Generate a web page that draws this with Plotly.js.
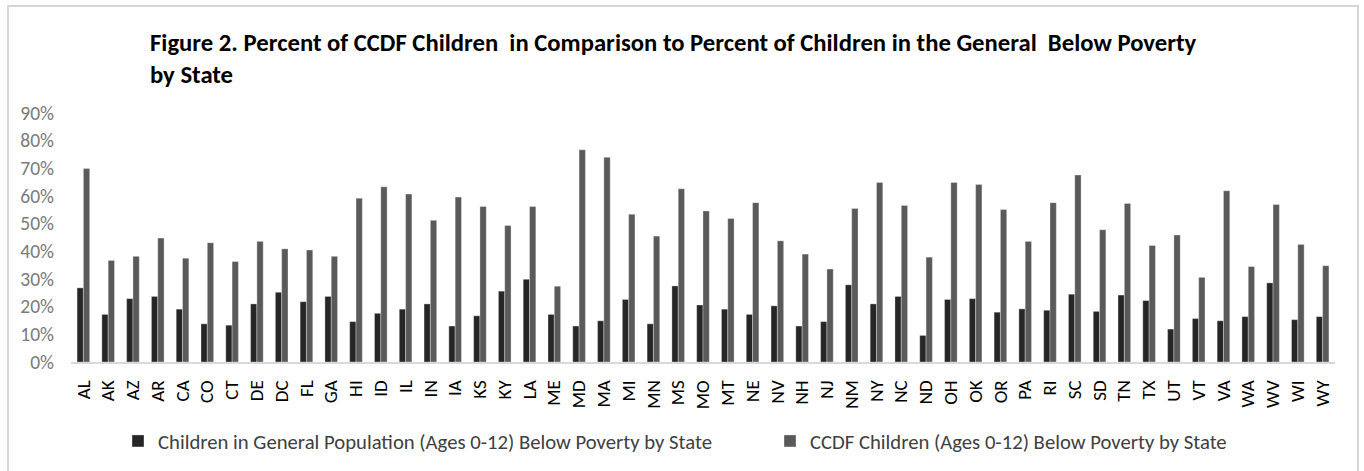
<!DOCTYPE html>
<html>
<head>
<meta charset="utf-8">
<script src="https://cdn.plot.ly/plotly-3.0.1.min.js"></script>
<style>
  html, body { margin: 0; padding: 0; background: #fff; }
  #chart { width: 1364px; height: 471px; }
</style>
</head>
<body>
<div id="chart"></div>
<script>
// State abbreviations along the category axis
const states = ['AL','AK','AZ','AR','CA','CO','CT','DE','DC','FL','GA','HI','ID','IL','IN','IA','KS','KY','LA','ME','MD','MA','MI','MN','MS','MO','MT','NE','NV','NH','NJ','NM','NY','NC','ND','OH','OK','OR','PA','RI','SC','SD','TN','TX','UT','VT','VA','WA','WV','WI','WY'];

// Share of children (ages 0-12) in the general population below poverty
const generalPoverty = [0.268,0.172,0.229,0.237,0.191,0.138,0.133,0.210,0.252,0.218,0.237,0.146,0.176,0.191,0.210,0.130,0.167,0.256,0.299,0.172,0.130,0.149,0.226,0.138,0.275,0.206,0.191,0.172,0.203,0.130,0.146,0.279,0.210,0.237,0.096,0.226,0.229,0.180,0.192,0.187,0.245,0.183,0.242,0.222,0.119,0.157,0.149,0.164,0.286,0.153,0.164];

// Share of CCDF children (ages 0-12) below poverty
const ccdfPoverty = [0.699,0.367,0.382,0.448,0.375,0.431,0.363,0.436,0.409,0.405,0.382,0.592,0.633,0.607,0.512,0.596,0.562,0.493,0.562,0.274,0.767,0.740,0.534,0.455,0.626,0.546,0.519,0.576,0.438,0.390,0.336,0.555,0.649,0.566,0.379,0.649,0.642,0.551,0.436,0.576,0.676,0.478,0.573,0.421,0.459,0.306,0.619,0.345,0.569,0.425,0.348];

const seriesNames = [
  'Children in General Population (Ages 0-12) Below Poverty by State',
  'CCDF Children (Ages 0-12) Below Poverty by State'
];

const titleText = 'Figure 2. Percent of CCDF Children  in Comparison to Percent of Children in the General  Below Poverty<br>by State';

const FONT = 'Carlito, "Liberation Sans Narrow", "Open Sans", sans-serif';

const barLine = { color: 'rgba(255,255,255,0.55)', width: 0.6 };

const traces = [
  {
    type: 'bar',
    name: seriesNames[0],
    x: states,
    y: generalPoverty,
    marker: { color: '#262626', line: barLine },
    legend: 'legend',
    hovertemplate: '%{x}: %{y:.1%}<extra></extra>'
  },
  {
    type: 'bar',
    name: seriesNames[1],
    x: states,
    y: ccdfPoverty,
    marker: { color: '#5a5a5a', line: barLine },
    legend: 'legend2',
    hovertemplate: '%{x}: %{y:.1%}<extra></extra>'
  }
];

// plot area in pixels, used to place the outer frame
const W = 1364, H = 471;
const M = { l: 71, r: 29, t: 113, b: 109 };
const pw = W - M.l - M.r, ph = H - M.t - M.b;
const px = v => (v - M.l) / pw;
const py = v => (H - M.b - v) / ph;

const legendBase = {
  orientation: 'h',
  xref: 'container',
  yref: 'container',
  xanchor: 'left',
  y: 1 - 441 / H,
  yanchor: 'middle',
  itemwidth: 30,
  font: { family: FONT, size: 20.7, color: '#404040' },
  bgcolor: 'rgba(0,0,0,0)'
};

const layout = {
  width: W,
  height: H,
  margin: M,
  paper_bgcolor: '#ffffff',
  plot_bgcolor: '#ffffff',
  font: { family: FONT, color: '#404040' },
  title: {
    text: titleText,
    font: { family: FONT, size: 24.7, color: '#000000', weight: 'bold' },
    xref: 'container',
    yref: 'container',
    x: 150 / W,
    xanchor: 'left',
    y: 1 - 51 / H,
    yanchor: 'top'
  },
  barmode: 'group',
  bargap: 0.49,
  bargroupgap: 0,
  xaxis: {
    type: 'category',
    tickangle: -90,
    tickfont: { family: FONT, size: 19, color: '#000000' },
    showline: true,
    linecolor: '#d9d9d9',
    linewidth: 1.5,
    ticks: '',
    showgrid: false,
    ticklabelstandoff: 9,
    fixedrange: true
  },
  yaxis: {
    range: [0, 0.9],
    dtick: 0.1,
    tick0: 0,
    tickformat: '.0%',
    tickfont: { family: FONT, size: 19.5, color: '#7a7a7a' },
    showgrid: false,
    zeroline: false,
    showline: false,
    ticks: '',
    ticklabelstandoff: 16,
    fixedrange: true
  },
  showlegend: true,
  legend: Object.assign({}, legendBase, { x: 118 / W }),
  legend2: Object.assign({}, legendBase, { x: 770 / W }),
  shapes: [
    {
      type: 'rect',
      xref: 'paper', yref: 'paper',
      x0: px(8), x1: px(1358),
      y0: py(490), y1: py(6),
      line: { color: '#d6d6d6', width: 2 },
      fillcolor: 'rgba(0,0,0,0)',
      layer: 'below'
    }
  ],
  hovermode: 'closest'
};

Plotly.newPlot('chart', traces, layout, { displayModeBar: false, responsive: false });
</script>
</body>
</html>
